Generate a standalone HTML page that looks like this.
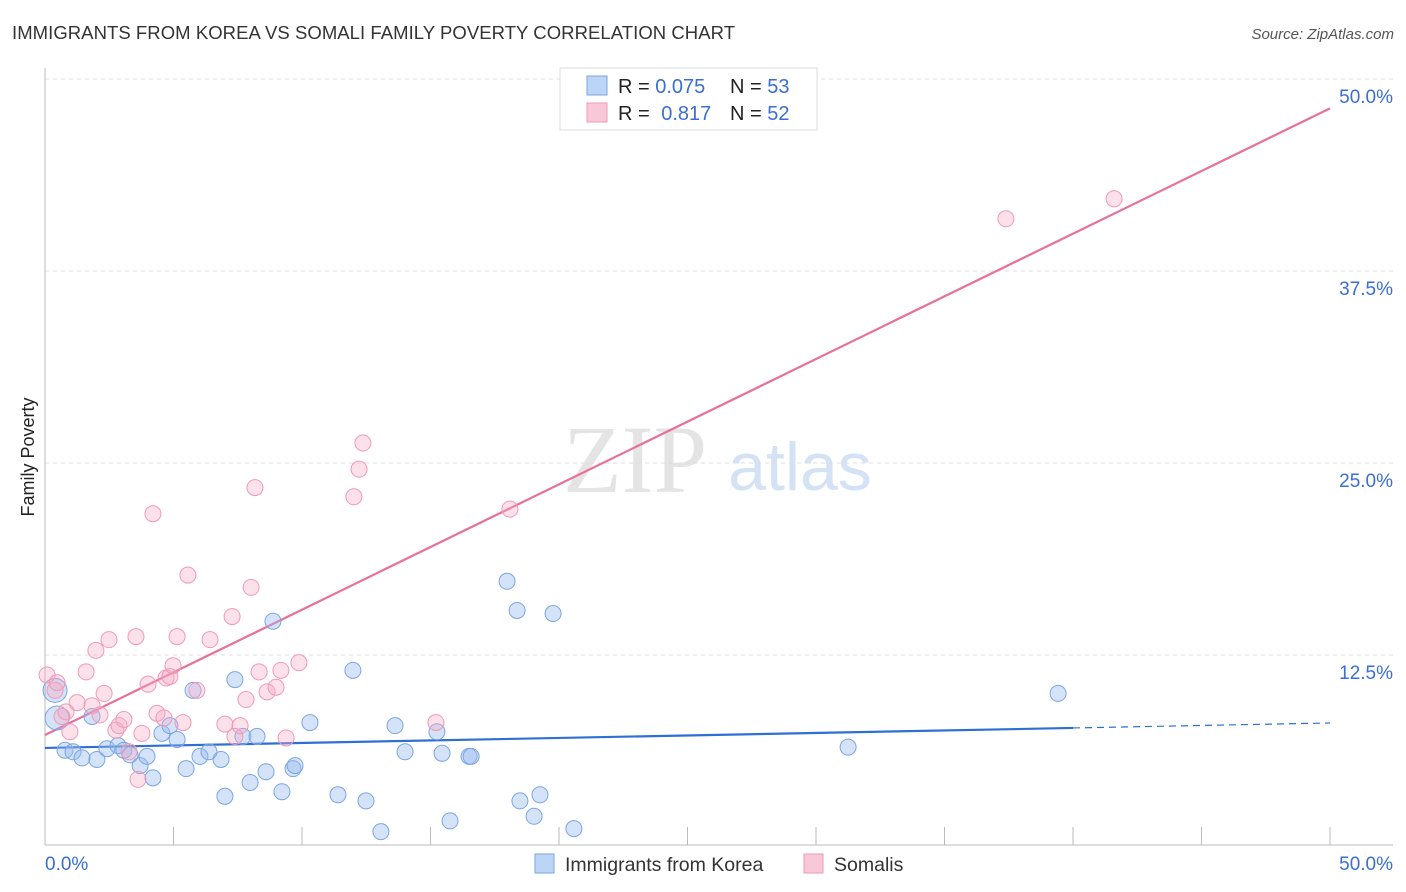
<!DOCTYPE html>
<html><head><meta charset="utf-8"><style>
body{margin:0;background:#fff;font-family:"Liberation Sans",sans-serif;}
svg{display:block}
</style></head><body>
<svg id="chart" width="1406" height="892">
<text x="12" y="39" font-size="18.5" fill="#333" textLength="723">IMMIGRANTS FROM KOREA VS SOMALI FAMILY POVERTY CORRELATION CHART</text>
<text x="1394" y="39" font-size="15" fill="#555" font-style="italic" text-anchor="end">Source: ZipAtlas.com</text>
<text x="34" y="457" font-size="18" fill="#222" transform="rotate(-90 34 457)" text-anchor="middle">Family Poverty</text>
<text x="635" y="492" font-size="96" fill="#e4e4e4" font-family="Liberation Serif,serif" text-anchor="middle">ZIP</text>
<text x="800" y="490" font-size="68" fill="#d4e2f6" text-anchor="middle">atlas</text>
<g id="grid"></g><g id="axes"></g><g id="lines"></g><g id="pts"></g>
<g>
<rect x="560" y="68" width="257" height="62" fill="#fff" stroke="#ddd"/>
<rect x="587" y="76" width="20" height="19" fill="#bcd4f5" stroke="#7aa6e0"/>
<rect x="587" y="103" width="20" height="19" fill="#f9c8d8" stroke="#ee9ab6"/>
<text x="618" y="93" font-size="20" fill="#222">R = <tspan fill="#3a6fd1">0.075</tspan><tspan x="730">N = </tspan><tspan fill="#3a6fd1">53</tspan></text>
<text x="618" y="120" font-size="20" fill="#222">R = <tspan fill="#3a6fd1" dx="6">0.817</tspan><tspan x="730">N = </tspan><tspan fill="#3a6fd1">52</tspan></text>
</g>
<g>
<rect x="535" y="854" width="19" height="19" fill="#bcd4f5" stroke="#7aa6e0"/>
<text x="565" y="871" font-size="19.5" fill="#333">Immigrants from Korea</text>
<rect x="804" y="854" width="19" height="19" fill="#f9c8d8" stroke="#ee9ab6"/>
<text x="834" y="871" font-size="19.5" fill="#333">Somalis</text>
</g>
</svg>
<script>
const yTicks=[12.5,25,37.5,50];
const yTickLabels=["12.5%","25.0%","37.5%","50.0%"];
const xTicks=[0,5,10,15,20,25,30,35,40,45,50];
const koreaX=[0.39,0.47,0.78,1.09,1.44,1.83,2.02,2.41,2.84,3.07,3.31,3.70,3.97,4.20,4.55,4.86,5.14,5.49,5.76,6.03,6.38,6.85,7.00,7.39,7.70,7.98,8.25,8.60,8.87,9.22,9.65,9.73,10.31,11.40,11.98,12.49,13.07,13.62,14.01,15.25,15.45,15.76,16.50,16.58,17.98,18.37,18.48,19.03,19.26,19.77,20.58,31.25,39.42];
const koreaY=[10.2,8.4,6.3,6.2,5.8,8.5,5.7,6.4,6.6,6.3,6.0,5.3,5.9,4.5,7.4,7.9,7.0,5.1,10.2,5.9,6.2,5.7,3.3,10.9,7.2,4.2,7.2,4.9,14.7,3.6,5.1,5.3,8.1,3.4,11.5,3.0,1.0,7.9,6.2,7.5,6.1,1.7,5.9,5.9,17.3,15.4,3.0,2.0,3.4,15.2,1.2,6.5,10.0];
const somaliX=[0.08,0.39,0.47,0.66,0.82,0.97,1.25,1.60,1.83,1.98,2.14,2.30,2.49,2.76,2.88,3.07,3.27,3.54,3.62,3.77,4.01,4.20,4.36,4.63,4.71,4.86,4.98,5.14,5.37,5.56,5.91,6.42,7.00,7.28,7.39,7.59,7.82,8.02,8.17,8.33,8.64,8.99,9.18,9.38,9.88,12.02,12.22,12.37,15.21,18.09,37.39,41.60];
const somaliY=[11.2,10.2,10.7,8.5,8.8,7.5,9.4,11.4,9.2,12.8,8.6,10.0,13.5,7.6,7.9,8.3,6.2,13.7,4.4,7.4,10.6,21.7,8.7,8.4,11.0,11.1,11.8,13.7,8.1,17.7,10.2,13.5,8.0,15.0,7.2,7.9,9.6,16.9,23.4,11.4,10.1,10.4,11.5,7.1,12.0,22.8,24.6,26.3,8.1,22.0,40.9,42.2];
const koreaFit=[6.45,0.0325]; // intercept, slope
const somaliFit=[7.29,0.816];
const NS="http://www.w3.org/2000/svg";
const X=v=>45+v*25.7, Y=v=>847-v*15.36;
function mk(tag,parent,attrs){const e=document.createElementNS(NS,tag);for(const k in attrs)e.setAttribute(k,attrs[k]);document.getElementById(parent).appendChild(e);return e;}
yTicks.forEach((t,i)=>{
 const g=mk('line','grid',{x1:45,x2:1393,y1:Y(t),y2:Y(t),stroke:'#ddd','stroke-dasharray':'4,4'});
 
 
 const l=mk('text','grid',{x:1393,y:Y(t)+24,'font-size':19,fill:'#3a6fd1','text-anchor':'end'});l.textContent=yTickLabels[i];
 
 
});
mk('line','axes',{x1:45,x2:45,y1:68,y2:845,stroke:'#bbb'});
mk('line','axes',{x1:45,x2:1393,y1:845,y2:845,stroke:'#bbb'});
xTicks.forEach(t=>{const e=mk('line','axes',{x1:X(t),x2:X(t),y1:827,y2:845,stroke:'#bbb'});
 
 });
let a=mk('text','axes',{x:45,y:870,'font-size':19,fill:'#3a6fd1'});a.textContent='0.0%';


a=mk('text','axes',{x:1393,y:870,'font-size':19,fill:'#3a6fd1','text-anchor':'end'});a.textContent='50.0%';


const f=(fit,x)=>fit[0]+fit[1]*x;
let l1=mk('line','lines',{x1:X(0),y1:Y(f(koreaFit,0)),x2:X(40),y2:Y(f(koreaFit,40)),stroke:'#2e6fd6','stroke-width':2.2});


let l2=mk('line','lines',{x1:X(40),y1:Y(f(koreaFit,40)),x2:X(50),y2:Y(f(koreaFit,50)),stroke:'#2e6fd6','stroke-width':1.2,'stroke-dasharray':'7,5'});


let l3=mk('line','lines',{x1:X(0),y1:Y(f(somaliFit,0)),x2:X(50),y2:Y(f(somaliFit,50)),stroke:'#e8709a','stroke-width':2.2});


koreaX.forEach((x,i)=>{const c=mk('circle','pts',{cx:X(x),cy:Y(koreaY[i]),r:i<2?12:8,fill:'rgba(150,185,240,0.4)',stroke:'#7aa6e0','stroke-width':1});
 
 });
somaliX.forEach((x,i)=>{const c=mk('circle','pts',{cx:X(x),cy:Y(somaliY[i]),r:8,fill:'rgba(245,170,196,0.35)',stroke:'#ee9ab6','stroke-width':1});
 
 });
</script>
</body></html>
